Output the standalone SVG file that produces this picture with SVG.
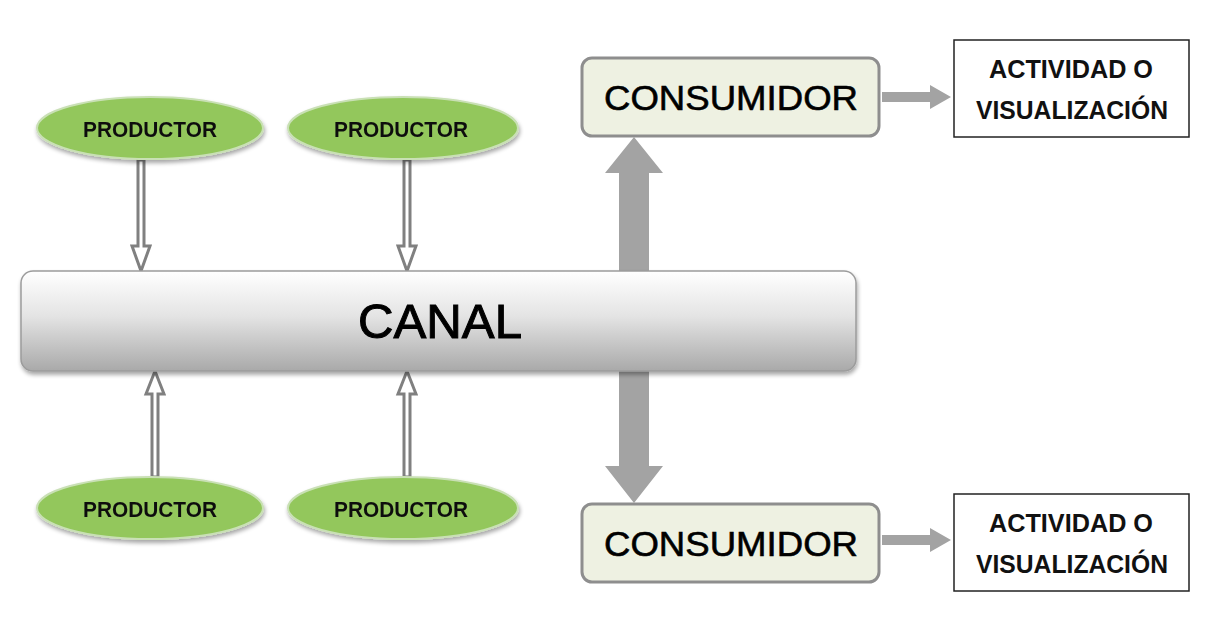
<svg xmlns="http://www.w3.org/2000/svg" width="1214" height="618" viewBox="0 0 1214 618">
<defs>
<linearGradient id="canalGrad" x1="0" y1="0" x2="0" y2="1">
<stop offset="0" stop-color="#ffffff"/>
<stop offset="0.45" stop-color="#e4e4e4"/>
<stop offset="1" stop-color="#a9a9a9"/>
</linearGradient>
<filter id="shadow" x="-5%" y="-20%" width="110%" height="150%">
<feGaussianBlur in="SourceAlpha" stdDeviation="2"/>
<feOffset dx="1" dy="3" result="b"/>
<feComponentTransfer><feFuncA type="linear" slope="0.35"/></feComponentTransfer>
<feMerge><feMergeNode/><feMergeNode in="SourceGraphic"/></feMerge>
</filter>
</defs>
<style>
.prod{fill:#93c75c;stroke:#c9e0b5;stroke-width:2}
.prodTxt{font-family:"Liberation Sans",Arial,sans-serif;font-weight:bold;font-size:22px;fill:#111;text-anchor:middle}
.cons{fill:#eef1e2;stroke:#8e8e8e;stroke-width:3}
.consTxt{font-family:"Liberation Sans",Arial,sans-serif;font-size:35px;fill:#000;stroke:#000;stroke-width:0.6;text-anchor:middle}
.act{fill:#fff;stroke:#222;stroke-width:1.5}
.actTxt{font-family:"Liberation Sans",Arial,sans-serif;font-weight:bold;font-size:25px;fill:#111;text-anchor:middle}
.hollow{fill:#fff;stroke:#808080;stroke-width:3;stroke-linejoin:miter}
.thick{fill:#a3a3a3}
</style>
<rect width="1214" height="618" fill="#fff"/>

<g id="connectors">
<path class="hollow" d="M138,160 V246 H132 L141,271 L150,246 H144 V160 Z"/>
<path class="hollow" d="M404,160 V246 H398 L407,271 L416,246 H410 V160 Z"/>
<path class="hollow" d="M152,477 V394 H146 L155,371 L164,394 H158 V477 Z"/>
<path class="hollow" d="M404,477 V394 H398 L407,371 L416,394 H410 V477 Z"/>
<path class="thick" d="M619,271 V173 H605 L634,137 L663,173 H649 V271 Z"/>
<path class="thick" d="M619,371 V466 H605 L634,503 L663,466 H649 V371 Z"/>
<path class="thick" d="M882,92 H930 V85 L951,97 L930,109 V102 H882 Z"/>
<path class="thick" d="M882,535 H930 V528 L951,540 L930,552 V545 H882 Z"/>
</g>

<g id="canal">
<rect x="21" y="271" width="835" height="100" rx="12" fill="url(#canalGrad)" stroke="#9c9c9c" stroke-width="1.5" filter="url(#shadow)"/>
<text x="440" y="338" font-family="'Liberation Sans',Arial,sans-serif" font-size="49" fill="#000" stroke="#000" stroke-width="1" text-anchor="middle" textLength="164" lengthAdjust="spacingAndGlyphs">CANAL</text>
</g>

<g id="productor1" filter="url(#shadow)">
<ellipse class="prod" cx="150" cy="128" rx="113" ry="31"/>
<text class="prodTxt" x="150" y="137" textLength="134" lengthAdjust="spacingAndGlyphs">PRODUCTOR</text>
</g>
<g id="productor2" filter="url(#shadow)">
<ellipse class="prod" cx="403" cy="128" rx="115" ry="31"/>
<text class="prodTxt" x="401" y="137" textLength="134" lengthAdjust="spacingAndGlyphs">PRODUCTOR</text>
</g>
<g id="productor3" filter="url(#shadow)">
<ellipse class="prod" cx="150" cy="508" rx="113" ry="31"/>
<text class="prodTxt" x="150" y="517" textLength="134" lengthAdjust="spacingAndGlyphs">PRODUCTOR</text>
</g>
<g id="productor4" filter="url(#shadow)">
<ellipse class="prod" cx="403" cy="508" rx="115" ry="31"/>
<text class="prodTxt" x="401" y="517" textLength="134" lengthAdjust="spacingAndGlyphs">PRODUCTOR</text>
</g>

<g id="consumidor1">
<rect class="cons" x="582" y="58" width="297" height="78" rx="10"/>
<text class="consTxt" x="731" y="110" textLength="254" lengthAdjust="spacingAndGlyphs">CONSUMIDOR</text>
</g>
<g id="consumidor2">
<rect class="cons" x="582" y="504" width="297" height="78" rx="10"/>
<text class="consTxt" x="731" y="556" textLength="254" lengthAdjust="spacingAndGlyphs">CONSUMIDOR</text>
</g>

<g id="actividad1">
<rect class="act" x="954" y="40" width="235" height="97"/>
<text class="actTxt" x="1071" y="78" textLength="164" lengthAdjust="spacingAndGlyphs">ACTIVIDAD O</text>
<text class="actTxt" x="1072" y="119" textLength="192" lengthAdjust="spacingAndGlyphs">VISUALIZACIÓN</text>
</g>
<g id="actividad2">
<rect class="act" x="954" y="494" width="235" height="97"/>
<text class="actTxt" x="1071" y="532" textLength="164" lengthAdjust="spacingAndGlyphs">ACTIVIDAD O</text>
<text class="actTxt" x="1072" y="573" textLength="192" lengthAdjust="spacingAndGlyphs">VISUALIZACIÓN</text>
</g>
</svg>
